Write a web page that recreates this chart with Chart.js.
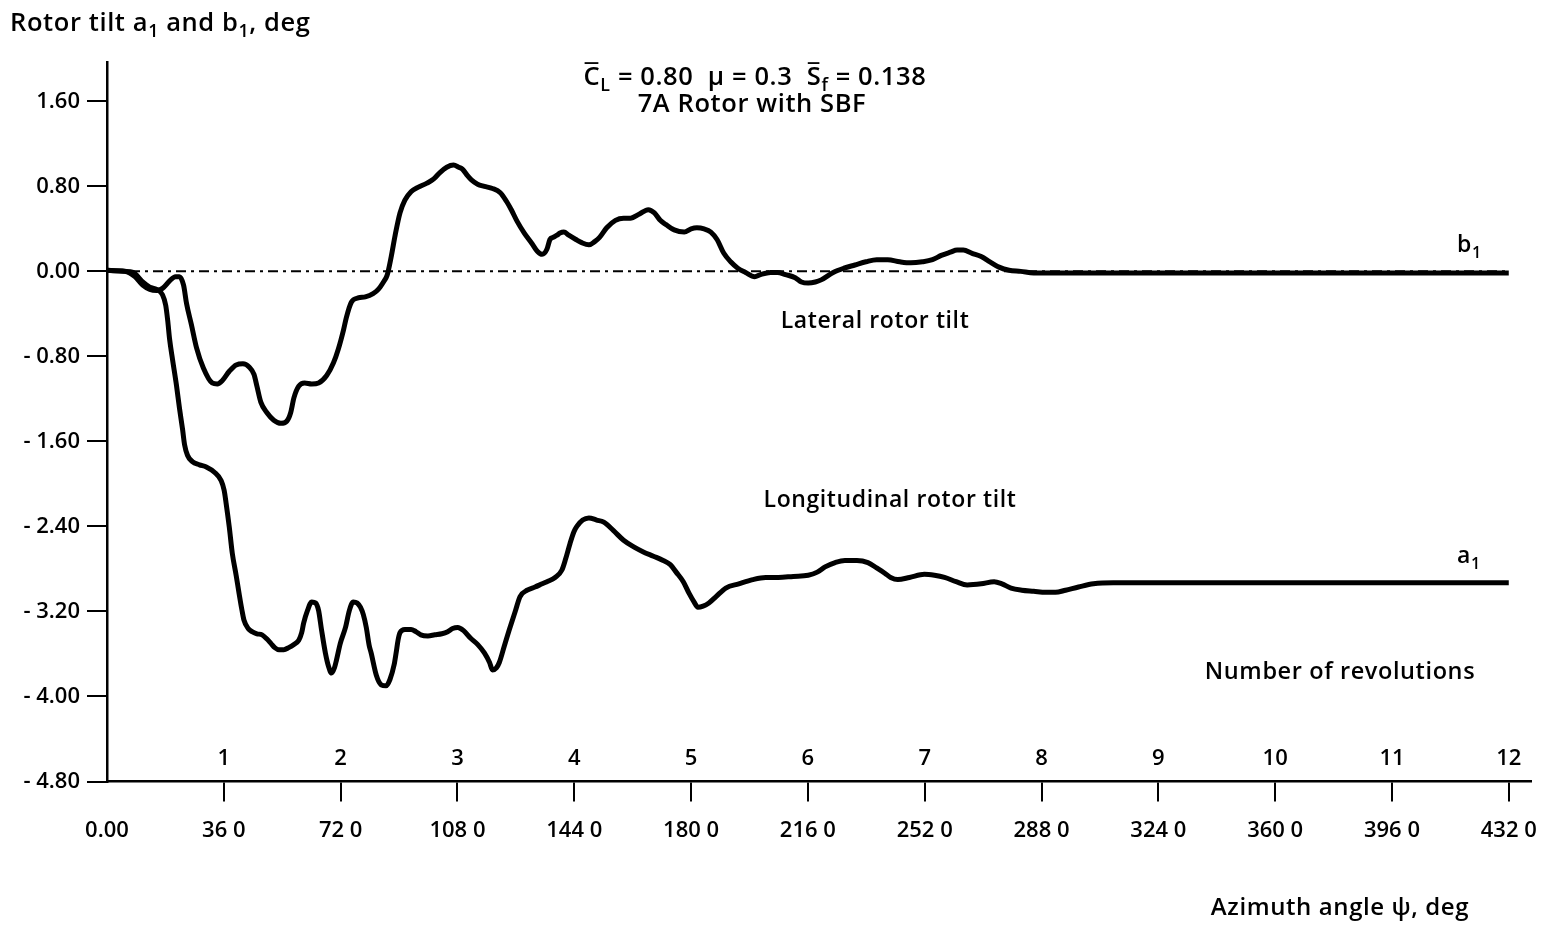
<!DOCTYPE html>
<html>
<head>
  <meta charset="utf-8">
  <title>Rotor tilt response</title>
  <script src="https://cdn.jsdelivr.net/npm/chart.js"></script>
  <style>
    body {
      background: #ffffff;
      margin: 0;
      padding: 0;
    }
    canvas {
      display: block;
    }
  </style>
</head>
<body>
  <canvas id="tiltChart" width="1553" height="926"></canvas>

  <script>
    // azimuth ticks (deg) and their printed labels
    const azimuthTicks = [0, 360, 720, 1080, 1440, 1800, 2160, 2520, 2880, 3240, 3600, 3960, 4320];
    const azimuthLabels = ['0.00', '36 0', '72 0', '108 0', '144 0', '180 0', '216 0', '252 0', '288 0', '324 0', '360 0', '396 0', '432 0'];
    const revolutionLabels = ['1', '2', '3', '4', '5', '6', '7', '8', '9', '10', '11', '12'];

    // rotor tilt ticks (deg)
    const tiltTicks = [-4.8, -4.0, -3.2, -2.4, -1.6, -0.8, 0, 0.8, 1.6];
    const tiltLabels = ['- 4.80', '- 4.00', '- 3.20', '- 2.40', '- 1.60', '- 0.80', '0.00', '0.80', '1.60'];

    // b1, lateral rotor tilt
    const lateralPsi = [0, 55, 86, 110, 132, 153, 171, 193, 211, 223, 236, 245, 260, 276, 297, 324, 340, 355, 377, 398,
      419, 438, 453, 462, 474, 493, 514, 536, 554, 566, 576, 591, 609, 631, 652, 677, 698, 713, 729, 738,
      753, 774, 796, 820, 836, 854, 863, 876, 888, 903, 918, 937, 958, 986, 1007, 1026, 1047, 1068, 1084, 1096,
      1111, 1123, 1142, 1163, 1188, 1212, 1231, 1246, 1264, 1286, 1310, 1326, 1341, 1356, 1365, 1375, 1387, 1396, 1408, 1423,
      1445, 1463, 1485, 1503, 1518, 1540, 1567, 1592, 1613, 1641, 1668, 1687, 1705, 1723, 1748, 1779, 1800, 1818, 1840, 1861,
      1880, 1901, 1922, 1944, 1968, 1996, 2014, 2045, 2066, 2091, 2121, 2140, 2161, 2183, 2201, 2238, 2271, 2305, 2339, 2372,
      2406, 2443, 2477, 2513, 2544, 2571, 2599, 2620, 2639, 2666, 2694, 2721, 2749, 2780, 2816, 2856, 2887, 2979, 4320];
    const lateralTilt = [0.01, 0.00, -0.05, -0.13, -0.17, -0.18, -0.16, -0.09, -0.05, -0.05, -0.13, -0.30, -0.50, -0.72, -0.91, -1.05, -1.06, -1.03, -0.94, -0.88,
      -0.87, -0.90, -0.97, -1.08, -1.23, -1.33, -1.40, -1.43, -1.41, -1.33, -1.19, -1.08, -1.05, -1.06, -1.05, -0.98, -0.86, -0.73, -0.55, -0.43,
      -0.29, -0.25, -0.24, -0.21, -0.17, -0.09, -0.04, 0.14, 0.34, 0.55, 0.67, 0.75, 0.79, 0.83, 0.87, 0.93, 0.98, 1.00, 0.98, 0.96,
      0.90, 0.86, 0.82, 0.80, 0.78, 0.74, 0.66, 0.58, 0.47, 0.36, 0.26, 0.19, 0.16, 0.21, 0.30, 0.32, 0.34, 0.36, 0.37, 0.34,
      0.30, 0.27, 0.25, 0.28, 0.32, 0.41, 0.48, 0.50, 0.50, 0.54, 0.58, 0.55, 0.48, 0.44, 0.39, 0.37, 0.40, 0.41, 0.40, 0.37,
      0.30, 0.17, 0.09, 0.03, -0.01, -0.05, -0.03, -0.01, -0.01, -0.03, -0.06, -0.10, -0.11, -0.10, -0.08, -0.01, 0.03, 0.06, 0.09, 0.11,
      0.11, 0.09, 0.08, 0.09, 0.11, 0.15, 0.18, 0.20, 0.20, 0.17, 0.14, 0.09, 0.04, 0.01, 0.00, -0.015, -0.015, -0.015, -0.015];

    // a1, longitudinal rotor tilt
    const longitudinalPsi = [0, 55, 80, 110, 132, 153, 171, 181, 187, 193, 202, 214, 223, 233, 239, 248, 263, 285, 306, 331,
      352, 361, 367, 377, 386, 398, 407, 416, 422, 435, 447, 462, 478, 493, 505, 517, 530, 545, 560, 576,
      591, 600, 606, 618, 631, 643, 652, 661, 673, 683, 692, 701, 707, 719, 735, 747, 759, 771, 781, 790,
      799, 808, 814, 830, 845, 860, 872, 885, 891, 897, 903, 918, 937, 952, 967, 989, 1010, 1032, 1050, 1065,
      1081, 1099, 1120, 1142, 1163, 1179, 1188, 1200, 1209, 1224, 1240, 1258, 1273, 1295, 1319, 1341, 1356, 1381, 1402, 1414,
      1427, 1439, 1448, 1466, 1485, 1509, 1531, 1561, 1592, 1622, 1653, 1684, 1714, 1736, 1754, 1776, 1794, 1809, 1821, 1837,
      1855, 1877, 1907, 1947, 1990, 2030, 2069, 2115, 2161, 2189, 2213, 2244, 2274, 2311, 2345, 2372, 2397, 2415, 2437, 2473,
      2519, 2550, 2581, 2617, 2651, 2694, 2734, 2758, 2786, 2819, 2856, 2893, 2923, 2954, 2994, 3040, 3101, 4320];
    const longitudinalTilt = [0.01, 0.00, -0.01, -0.10, -0.15, -0.17, -0.22, -0.32, -0.46, -0.64, -0.83, -1.07, -1.28, -1.49, -1.63, -1.73, -1.79, -1.82, -1.84, -1.89,
      -1.97, -2.06, -2.18, -2.41, -2.65, -2.86, -3.03, -3.19, -3.28, -3.36, -3.39, -3.41, -3.42, -3.46, -3.50, -3.54, -3.56, -3.56, -3.54, -3.51,
      -3.47, -3.40, -3.31, -3.19, -3.11, -3.12, -3.19, -3.37, -3.59, -3.72, -3.78, -3.73, -3.66, -3.50, -3.35, -3.19, -3.11, -3.12, -3.16, -3.23,
      -3.35, -3.52, -3.59, -3.80, -3.89, -3.90, -3.84, -3.70, -3.59, -3.47, -3.40, -3.37, -3.37, -3.39, -3.42, -3.43, -3.42, -3.41, -3.39, -3.36,
      -3.35, -3.38, -3.45, -3.51, -3.59, -3.68, -3.75, -3.73, -3.68, -3.53, -3.37, -3.20, -3.06, -3.00, -2.97, -2.94, -2.92, -2.88, -2.81, -2.70,
      -2.56, -2.45, -2.40, -2.34, -2.32, -2.34, -2.36, -2.44, -2.53, -2.59, -2.64, -2.68, -2.72, -2.76, -2.83, -2.92, -3.03, -3.11, -3.16, -3.15,
      -3.12, -3.06, -2.98, -2.94, -2.90, -2.88, -2.88, -2.87, -2.86, -2.83, -2.78, -2.74, -2.72, -2.72, -2.74, -2.79, -2.84, -2.88, -2.90, -2.88,
      -2.85, -2.86, -2.88, -2.92, -2.95, -2.94, -2.92, -2.94, -2.98, -3.00, -3.01, -3.02, -3.02, -3.00, -2.97, -2.94, -2.93, -2.93];

    // zero reference line
    const zeroPsi = [0, 4320];
    const zeroTilt = [0, 0];

    const FONT = "'Open Sans', 'DejaVu Sans', sans-serif";

    function toPoints(xs, ys) {
      return xs.map((x, i) => ({ x: x, y: ys[i] }));
    }

    function fontFor(size) {
      return '600 ' + size + 'px ' + FONT;
    }

    // text with optional subscripts / overbars, drawn piece by piece
    function drawParts(ctx, parts, x, y, size, align) {
      ctx.letterSpacing = '0.6px';
      const widths = parts.map(p => {
        ctx.font = fontFor(p.sub ? size * 0.7 : size);
        return ctx.measureText(p.t).width;
      });
      const total = widths.reduce((a, b) => a + b, 0);
      let cx = align === 'center' ? x - total / 2 : (align === 'right' ? x - total : x);
      parts.forEach((p, i) => {
        ctx.font = fontFor(p.sub ? size * 0.7 : size);
        const dy = p.sub ? size * 0.24 : 0;
        ctx.fillText(p.t, cx, y + dy);
        if (p.bar) {
          ctx.beginPath();
          ctx.lineWidth = 1.8;
          ctx.moveTo(cx + 1, y - size * 0.86);
          ctx.lineTo(cx + widths[i] - 2, y - size * 0.86);
          ctx.stroke();
        }
        cx += widths[i];
      });
      ctx.letterSpacing = '0px';
    }

    const annotations = {
      id: 'annotations',
      afterDraw(chart) {
        const ctx = chart.ctx;
        const xs = chart.scales.x;
        ctx.save();
        ctx.fillStyle = '#000';
        ctx.strokeStyle = '#000';
        ctx.textBaseline = 'alphabetic';
        ctx.textAlign = 'left';

        drawParts(ctx, [{ t: 'Rotor tilt a' }, { t: '1', sub: true }, { t: ' and b' }, { t: '1', sub: true }, { t: ', deg' }], 10, 31, 25.5, 'left');

        drawParts(ctx, [{ t: 'C', bar: true }, { t: 'L', sub: true }, { t: ' = 0.80  \u03bc = 0.3  ' },
          { t: 'S', bar: true }, { t: 'f', sub: true }, { t: ' = 0.138' }], 755, 85, 25.5, 'center');
        drawParts(ctx, [{ t: '7A Rotor with SBF' }], 752, 112, 25.5, 'center');

        drawParts(ctx, [{ t: 'Lateral rotor tilt' }], 875, 328, 23, 'center');
        drawParts(ctx, [{ t: 'Longitudinal rotor tilt' }], 890, 507, 23, 'center');
        drawParts(ctx, [{ t: 'Number of revolutions' }], 1340, 679, 23.5, 'center');
        drawParts(ctx, [{ t: 'Azimuth angle \u03c8, deg' }], 1340, 915, 24, 'center');

        drawParts(ctx, [{ t: 'b' }, { t: '1', sub: true }], 1457, 252, 23, 'left');
        drawParts(ctx, [{ t: 'a' }, { t: '1', sub: true }], 1457, 563, 23, 'left');

        // revolution count above the azimuth axis
        ctx.font = fontFor(22);
        ctx.textAlign = 'center';
        revolutionLabels.forEach((lbl, i) => {
          ctx.fillText(lbl, xs.getPixelForValue(azimuthTicks[i + 1]), 765);
        });
        ctx.restore();
      }
    };

    new Chart(document.getElementById('tiltChart').getContext('2d'), {
      type: 'line',
      data: {
        datasets: [
          {
            label: 'zero',
            data: toPoints(zeroPsi, zeroTilt),
            borderColor: '#000',
            borderWidth: 2,
            borderDash: [10, 5, 3, 5],
            pointRadius: 0,
            fill: false
          },
          {
            label: 'b1',
            data: toPoints(lateralPsi, lateralTilt),
            borderColor: '#000',
            borderWidth: 5,
            pointRadius: 0,
            cubicInterpolationMode: 'monotone',
            fill: false
          },
          {
            label: 'a1',
            data: toPoints(longitudinalPsi, longitudinalTilt),
            borderColor: '#000',
            borderWidth: 5,
            pointRadius: 0,
            cubicInterpolationMode: 'monotone',
            fill: false
          }
        ]
      },
      options: {
        responsive: false,
        animation: false,
        devicePixelRatio: 1,
        layout: { padding: { top: 62, right: 13, left: 0, bottom: 0 } },
        plugins: {
          legend: { display: false },
          tooltip: { enabled: false }
        },
        scales: {
          x: {
            type: 'linear',
            min: 0,
            max: 4390,
            afterBuildTicks: s => { s.ticks = azimuthTicks.map(v => ({ value: v })); },
            afterFit: s => { s.height = 144.5; },
            grid: {
              drawOnChartArea: false,
              tickLength: 20,
              lineWidth: 2,
              color: c => (c.tick && c.tick.value === 0 ? 'rgba(0,0,0,0)' : '#000')
            },
            border: { color: '#000', width: 2.5 },
            ticks: {
              color: '#000',
              padding: 16,
              maxRotation: 0,
              autoSkip: false,
              font: { family: FONT, size: 22, weight: '600' },
              callback: (v, i) => azimuthLabels[i]
            }
          },
          y: {
            min: -4.8,
            max: 1.97,
            afterBuildTicks: s => { s.ticks = tiltTicks.map(v => ({ value: v })); },
            afterFit: s => { s.width = 107; },
            grid: {
              drawOnChartArea: false,
              tickLength: 20,
              lineWidth: 2,
              color: '#000'
            },
            border: { color: '#000', width: 2.5 },
            ticks: {
              color: '#000',
              padding: 7,
              font: { family: FONT, size: 22, weight: '600' },
              callback: (v, i) => tiltLabels[i]
            }
          }
        }
      },
      plugins: [annotations]
    });
  </script>
</body>
</html>
